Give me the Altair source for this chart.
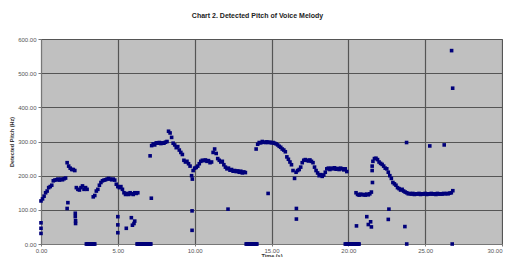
import altair as alt
import pandas as pd

# Pitch contour segments: (start time in s, pitch values in Hz at a fixed frame step)
seg_a_start = 0.0
seg_a = [126, 132, 140, 150, 155, 165, 168, 172, 185, 187, 188, 190, 187, 190, 188, 191,
         193, 238, 228, 222, 218, 218, 215, 165, 160, 158, 165, 170, 160, 165, 160]
seg_b_start = 3.4
seg_b = [138, 142, 155, 160, 172, 180, 185, 187, 188, 190, 192, 190, 188, 190, 187, 175,
         168, 165, 168, 160, 150, 145, 148, 145, 150, 147, 145, 150, 148, 150]
seg_c_start = 7.1
seg_c = [258, 288, 293, 290, 296, 295, 297, 294, 296, 295, 298, 300, 330, 325, 312, 295,
         290, 282, 285, 275, 268, 262, 245, 240, 242, 235, 228, 200, 215, 222, 224, 228,
         235, 242, 245, 244, 246, 242, 244, 238, 240, 268, 278, 265, 250, 245, 240, 242,
         232, 225, 220, 222, 216, 218, 213, 215, 212, 214, 210, 213, 208, 211, 209]
seg_d_start = 14.0
seg_d = [278, 292, 297, 296, 300, 298, 297, 299, 297, 298, 296, 297, 295, 293, 290, 286,
         283, 278, 275, 270, 255, 248, 240, 232, 215, 192, 210, 215, 218, 225, 238, 245,
         247, 245, 243, 246, 242, 238, 225, 215, 208, 200, 203, 198, 202, 210, 220, 222,
         218, 222, 220, 223, 219, 221, 218, 222, 220, 217, 220, 212]
seg_e_start = 20.5
seg_e = [150, 145, 143, 146, 144, 145, 143, 146, 144, 147, 152, 242, 250, 251, 247, 240,
         236, 233, 228, 222, 220, 210, 200, 192, 180, 176, 172, 165, 162, 158, 160, 155,
         152, 150, 147, 148, 146, 148, 145, 147, 146, 148, 145, 147, 146, 148, 145, 147,
         146, 148, 146, 147, 145, 148, 146, 147, 146, 148, 147, 148, 147, 149, 150, 156]
frame_step = 0.1

# Isolated detections
out_t = [0.0, 0.0, 0.0, 1.7, 1.75, 2.23, 2.23, 2.25, 2.25, 5.0, 5.0, 5.0, 5.55, 5.88,
         5.95, 6.05, 6.1, 7.18, 9.83, 9.83, 9.85, 12.17, 14.78, 16.62, 16.62, 20.53,
         21.2, 21.3, 21.45, 21.5, 21.55, 21.57, 21.55, 22.6, 22.64, 23.68, 23.79, 25.3,
         26.24, 26.72, 26.79, 23.8, 26.76]
out_p = [62, 46, 31, 104, 121, 90, 80, 68, 60, 80, 56, 33, 46, 77,
         55, 60, 67, 134, 97, 40, 190, 102, 148, 104, 73, 53,
         80, 57, 65, 50, 215, 180, 228, 72, 102, 51, 297, 287,
         290, 566, 456, 0, 0]

# Unvoiced frames (pitch 0)
zero_t = [2.95, 3.0, 3.05, 3.1, 3.15, 3.2, 3.25, 3.3, 3.35, 3.4, 3.45, 3.5,
          6.25, 6.3, 6.35, 6.4, 6.45, 6.5, 6.55, 6.6, 6.65, 6.7, 6.75, 6.8, 6.85, 6.9,
          6.95, 7.0, 7.05, 7.1, 7.15,
          13.35, 13.4, 13.45, 13.5, 13.55, 13.6, 13.65, 13.7, 13.75, 13.8, 13.85, 13.9,
          13.95, 14.0, 14.05,
          19.8, 19.85, 19.9, 19.95, 20.0, 20.05, 20.1, 20.15, 20.2, 20.25, 20.3, 20.35,
          20.4, 20.45, 20.5, 20.55, 20.6, 20.65, 20.7]

x_ticks = [0, 5, 10, 15, 20, 25, 30]
y_ticks = [0, 100, 200, 300, 400, 500, 600]

rows = []
for start, vals in [(seg_a_start, seg_a), (seg_b_start, seg_b), (seg_c_start, seg_c),
                    (seg_d_start, seg_d), (seg_e_start, seg_e)]:
    for i, v in enumerate(vals):
        rows.append({"t": round(start + i * frame_step, 3), "p": v})
for t, p in zip(out_t, out_p):
    rows.append({"t": t, "p": p})
for t in zero_t:
    rows.append({"t": t, "p": 0})
df = pd.DataFrame(rows)

chart = alt.Chart(df).mark_point(
    filled=True, shape="square", size=13, color="#00007a", opacity=1
).encode(
    x=alt.X("t:Q", title="Time (s)",
            scale=alt.Scale(domain=[0, 30], nice=False, zero=False),
            axis=alt.Axis(values=x_ticks, format=".2f", titlePadding=0,
                          labelPadding=1, tickSize=2, labelFlush=False,
                          labelAlign=alt.ExprRef(expr="datum.value >= 30 ? 'right' : 'center'"))),
    y=alt.Y("p:Q", title="Detected Pitch (Hz)",
            scale=alt.Scale(domain=[0, 600], nice=False),
            axis=alt.Axis(values=y_ticks, format=".2f", titlePadding=3,
                          labelFlush=False)),
).properties(
    width=461,
    height=205,
    background="white",
    autosize=alt.AutoSizeParams(type="none"),
    padding={"left": 33, "top": 31, "right": 1, "bottom": 13},
    title=alt.TitleParams("Chart 2. Detected Pitch of Voice Melody", fontSize=7,
                          fontWeight="bold", font="Liberation Sans", color="#222",
                          anchor="middle", dx=-14, offset=17),
).configure_view(
    fill="#c0c0c0", stroke="#9a9a9a", strokeWidth=1
).configure_axis(
    grid=True, gridColor="#555555", gridWidth=1.2, gridOpacity=1,
    domainColor="#777", tickColor="#777", tickSize=3,
    labelFont="Liberation Sans", labelFontSize=6, labelColor="#555",
    titleFont="Liberation Sans", titleFontSize=5.5, titleColor="#333", titleFontWeight="bold",
)

chart.save("out.html", embed_options={"renderer": "svg", "actions": False})
